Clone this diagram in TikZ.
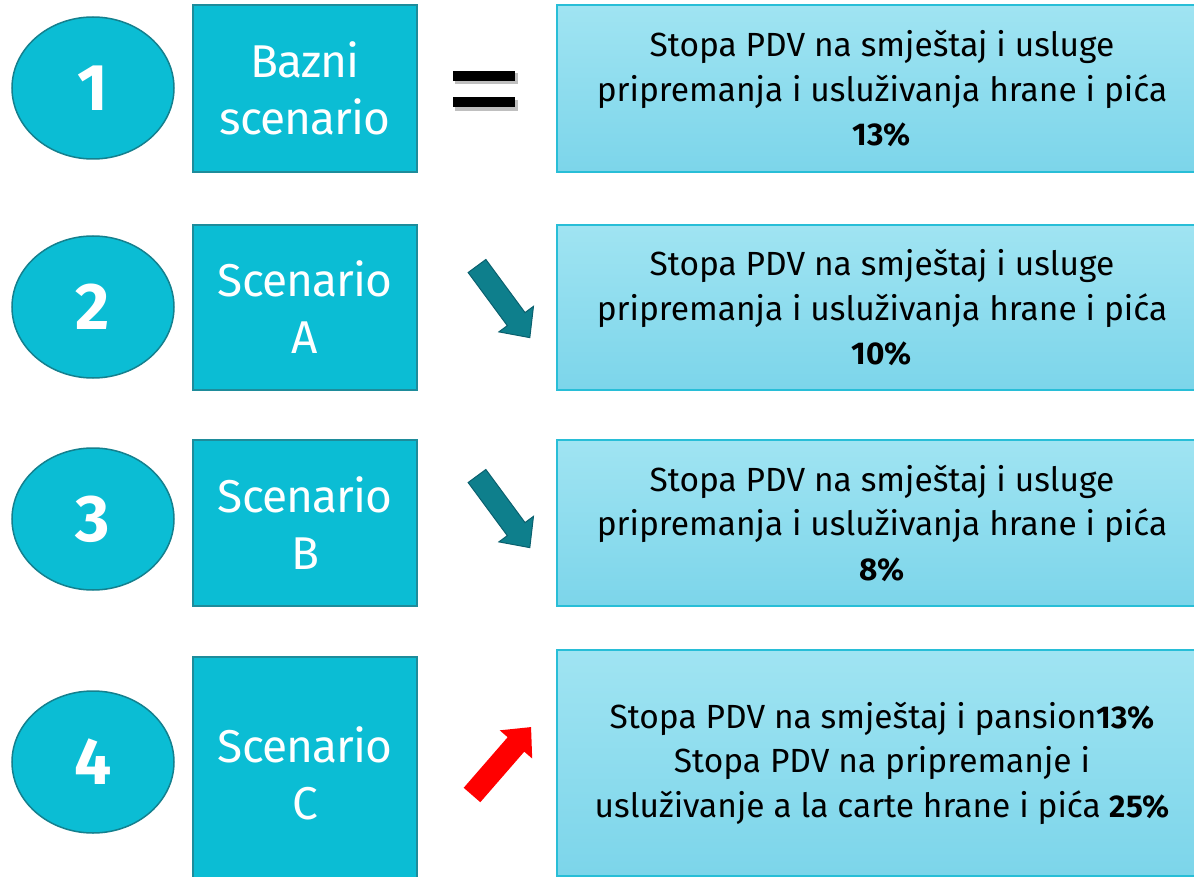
\documentclass[tikz,border=0pt]{standalone}
\usepackage{fontspec}
\setmainfont{Fira Sans}
\usetikzlibrary{shapes.geometric}
\definecolor{cyanfill}{RGB}{11,189,212}
\definecolor{boxborder}{RGB}{30,140,155}
\definecolor{ellborder}{RGB}{20,128,142}
\definecolor{rtop}{RGB}{160,228,242}
\definecolor{rbot}{RGB}{124,213,234}
\definecolor{rborder}{RGB}{40,190,215}
\definecolor{tealarrow}{RGB}{14,127,140}
\definecolor{tealedge}{RGB}{10,96,110}
\tikzset{
  num/.style={ellipse, draw=ellborder, line width=1.5pt, fill=cyanfill, text=white,
    minimum width=162pt, minimum height=142pt, inner sep=0pt,
    font=\fontsize{66}{66}\selectfont\bfseries},
  lbox/.style={rectangle, draw=boxborder, line width=1.5pt, fill=cyanfill, text=white,
    minimum width=224pt, align=center, inner sep=0pt,
    font=\fontsize{46}{57}\selectfont\addfontfeatures{LetterSpace=-2}},
  rbox/.style={rectangle, draw=rborder, line width=1.2pt, top color=rtop, bottom color=rbot,
    minimum width=650pt, align=center, inner sep=0pt, text=black,
    font=\fontsize{33.5}{44.5}\selectfont},
  eqbar/.style={fill=black},
  eqshadow/.style={fill=black, opacity=0.25},
}
\newcommand\pct[1]{{\fontsize{31.5}{44.5}\selectfont\bfseries #1}}
\newcommand\fatarrow[5]{% x, y, angle, length, style
  \begin{scope}[shift={(#1,#2)}, rotate=#3]
    \path[#5] (0,-11) -- (#4-23,-11) -- (#4-23,-21.5) -- (#4,0) -- (#4-23,21.5) -- (#4-23,11) -- (0,11) -- cycle;
  \end{scope}}
\begin{document}
\begin{tikzpicture}[x=1pt,y=-1pt]
\useasboundingbox (0,0) rectangle (1194,877);
\clip (0,0) rectangle (1194,877);

% ellipses
\node[num] (e1) at (93,88) {1};
\node[num] (e2) at (93,307) {2};
\node[num] (e3) at (93,519) {3};
\node[num] (e4) at (93,762) {4};

% left boxes
\node[lbox, minimum height=167pt] (b1) at (305,88.5) {Bazni\\scenario};
\node[lbox, minimum height=165pt] (b2) at (305,307.5) {Scenario\\A};
\node[lbox, minimum height=166pt] (b3) at (305,523) {Scenario\\B};
\node[lbox, minimum height=232pt] (b4) at (305,773) {Scenario\\C};

% right boxes
\node[rbox, minimum height=167pt] (r1) at (882,88.5) {Stopa PDV na smještaj i usluge\\pripremanja i usluživanja hrane i pića\\\pct{13\%}};
\node[rbox, minimum height=165pt] (r2) at (882,307.5) {Stopa PDV na smještaj i usluge\\pripremanja i usluživanja hrane i pića\\\pct{10\%}};
\node[rbox, minimum height=166pt] (r3) at (882,523) {Stopa PDV na smještaj i usluge\\pripremanja i usluživanja hrane i pića\\\pct{8\%}};
\node[rbox, minimum height=226pt] (r4) at (882,763) {Stopa PDV na smještaj i pansion\pct{13\%}\\Stopa PDV na pripremanje i\\usluživanje a la carte hrane i pića \pct{25\%}};

% equals sign
\fill[eqshadow] (455,73) rectangle (518,84);
\fill[eqshadow] (455,100) rectangle (518,111);
\fill[eqbar] (453,71) rectangle (515,81);
\fill[eqbar] (453,97.5) rectangle (515,107.5);

% arrows
\fatarrow{477}{266}{-53.6}{89}{fill=tealarrow, draw=tealedge, line width=1pt}
\fatarrow{477}{476}{-53.6}{89}{fill=tealarrow, draw=tealedge, line width=1pt}
\fatarrow{472}{795}{49}{90}{fill=red}
\end{tikzpicture}
\end{document}
